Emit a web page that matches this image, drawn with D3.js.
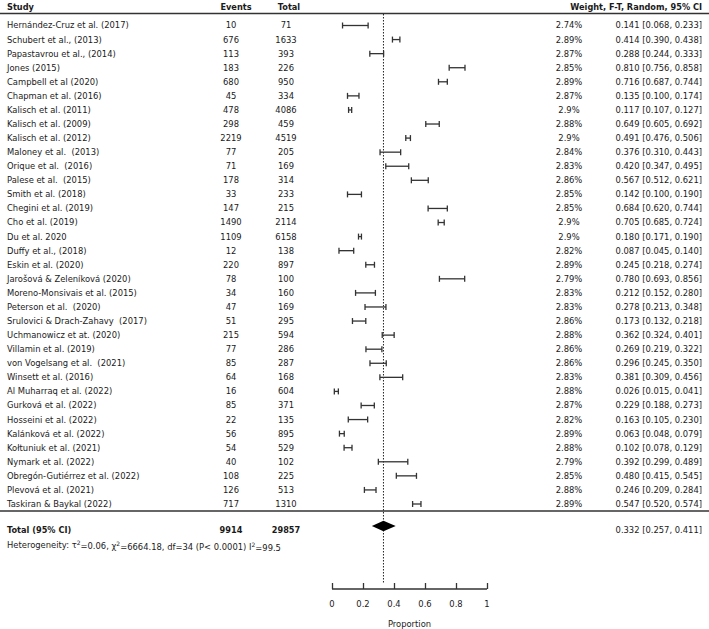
<!DOCTYPE html>
<html>
<head>
<meta charset="utf-8">
<script src="https://cdn.jsdelivr.net/npm/d3@7"></script>
<style>
  body { margin: 0; background: #fff; }
  svg text { font-family: "DejaVu Sans", sans-serif; font-size: 8.4px; fill: #1a1a1a; white-space: pre; }
  svg .bold text, svg text.bold { font-size: 8.2px; font-weight: bold; }
</style>
</head>
<body>
<div id="chart"></div>
<script>
var studies = ["Hernández-Cruz et al. (2017)", "Schubert et al., (2013)", "Papastavrou et al., (2014)", "Jones (2015)",
  "Campbell et al (2020)", "Chapman et al. (2016)", "Kalisch et al. (2011)", "Kalisch et al. (2009)", "Kalisch et al. (2012)",
  "Maloney et al.  (2013)", "Orique et al.  (2016)", "Palese et al.  (2015)", "Smith et al. (2018)", "Chegini et al. (2019)",
  "Cho et al. (2019)", "Du et al. 2020", "Duffy et al., (2018)", "Eskin et al. (2020)", "Jarošová & Zeleníková (2020)",
  "Moreno-Monsivais et al. (2015)", "Peterson et al.  (2020)", "Srulovici & Drach-Zahavy  (2017)", "Uchmanowicz et at. (2020)",
  "Villamin et al. (2019)", "von Vogelsang et al.  (2021)", "Winsett et al. (2016)", "Al Muharraq et al. (2022)",
  "Gurková et al. (2022)", "Hosseini et al. (2022)", "Kalánková et al. (2022)", "Kołtuniuk et al. (2021)",
  "Nymark et al. (2022)", "Obregón-Gutiérrez et al. (2022)", "Plevová et al. (2021)", "Taskiran & Baykal (2022)"];
var events = [10, 676, 113, 183, 680, 45, 478, 298, 2219, 77, 71, 178, 33, 147, 1490, 1109, 12, 220, 78, 34, 47, 51,
  215, 77, 85, 64, 16, 85, 22, 56, 54, 40, 108, 126, 717];
var totals = [71, 1633, 393, 226, 950, 334, 4086, 459, 4519, 205, 169, 314, 233, 215, 2114, 6158, 138, 897, 100, 160,
  169, 295, 594, 286, 287, 168, 604, 371, 135, 895, 529, 102, 225, 513, 1310];
var weights = ["2.74%", "2.89%", "2.87%", "2.85%", "2.89%", "2.87%", "2.9%", "2.88%", "2.9%", "2.84%", "2.83%", "2.86%",
  "2.85%", "2.85%", "2.9%", "2.9%", "2.82%", "2.89%", "2.79%", "2.83%", "2.83%", "2.86%", "2.88%", "2.86%", "2.86%",
  "2.83%", "2.88%", "2.87%", "2.82%", "2.89%", "2.88%", "2.79%", "2.85%", "2.88%", "2.89%"];
var est = [0.141, 0.414, 0.288, 0.810, 0.716, 0.135, 0.117, 0.649, 0.491, 0.376, 0.420, 0.567, 0.142, 0.684, 0.705,
  0.180, 0.087, 0.245, 0.780, 0.212, 0.278, 0.173, 0.362, 0.269, 0.296, 0.381, 0.026, 0.229, 0.163, 0.063, 0.102,
  0.392, 0.480, 0.246, 0.547];
var lower = [0.068, 0.390, 0.244, 0.756, 0.687, 0.100, 0.107, 0.605, 0.476, 0.310, 0.347, 0.512, 0.100, 0.620, 0.685,
  0.171, 0.045, 0.218, 0.693, 0.152, 0.213, 0.132, 0.324, 0.219, 0.245, 0.309, 0.015, 0.188, 0.105, 0.048, 0.078,
  0.299, 0.415, 0.209, 0.520];
var upper = [0.233, 0.438, 0.333, 0.858, 0.744, 0.174, 0.127, 0.692, 0.506, 0.443, 0.495, 0.621, 0.190, 0.744, 0.724,
  0.190, 0.140, 0.274, 0.856, 0.280, 0.348, 0.218, 0.401, 0.322, 0.350, 0.456, 0.041, 0.273, 0.230, 0.079, 0.129,
  0.489, 0.545, 0.284, 0.574];
var pooled = {est: 0.332, lo: 0.257, hi: 0.411, events: 9914, total: 29857};
var ticks = [0, 0.2, 0.4, 0.6, 0.8, 1];

var width = 709, height = 629;
var svg = d3.select("#chart").append("svg")
    .attr("width", width)
    .attr("height", height);

var x = d3.scaleLinear().domain([0, 1]).range([332, 487]);
var y = d3.scaleLinear().domain([0, studies.length - 1]).range([25.5, 504]);
var fmt = d3.format(".3f");

// column x positions
var colStudy = 7, colEvents = 231, colTotal = 286, colWeight = 569, colCI = 702;

// header
var head = svg.append("g").attr("class", "bold");
head.append("text").attr("x", colStudy).attr("y", 10).text("Study");
head.append("text").attr("x", 236).attr("y", 10).attr("text-anchor", "middle").text("Events");
head.append("text").attr("x", 289).attr("y", 10).attr("text-anchor", "middle").text("Total");
head.append("text").attr("x", colCI).attr("y", 10).attr("text-anchor", "end").text("Weight, F-T, Random, 95% CI");

svg.append("line").attr("x1", 0).attr("x2", width).attr("y1", 13.5).attr("y2", 13.5)
  .attr("stroke", "#333").attr("stroke-width", 1.5);
svg.append("line").attr("x1", 0).attr("x2", width).attr("y1", 511).attr("y2", 511)
  .attr("stroke", "#333").attr("stroke-width", 1.5);

// reference line at pooled estimate
svg.append("line")
  .attr("x1", x(pooled.est)).attr("x2", x(pooled.est))
  .attr("y1", 14).attr("y2", 583)
  .attr("stroke", "#222").attr("stroke-width", 1)
  .attr("stroke-dasharray", "1.5,1.5");

var rows = svg.selectAll("g.row")
  .data(studies)
  .enter().append("g")
  .attr("class", "row")
  .attr("transform", function(d, i) { return "translate(0," + y(i) + ")"; });

rows.append("text").attr("x", colStudy).attr("dy", "0.35em").text(function(d) { return d; });
rows.append("text").attr("x", colEvents).attr("dy", "0.35em").attr("text-anchor", "middle")
  .text(function(d, i) { return events[i]; });
rows.append("text").attr("x", colTotal).attr("dy", "0.35em").attr("text-anchor", "middle")
  .text(function(d, i) { return totals[i]; });
rows.append("text").attr("x", colWeight).attr("dy", "0.35em").attr("text-anchor", "middle")
  .text(function(d, i) { return weights[i]; });
rows.append("text").attr("x", colCI).attr("dy", "0.35em").attr("text-anchor", "end")
  .text(function(d, i) { return fmt(est[i]) + " [" + fmt(lower[i]) + ", " + fmt(upper[i]) + "]"; });

// CI bars
rows.append("line")
  .attr("x1", function(d, i) { return x(lower[i]); })
  .attr("x2", function(d, i) { return x(upper[i]); })
  .attr("stroke", "#333").attr("stroke-width", 1.3);
rows.append("line")
  .attr("x1", function(d, i) { return x(lower[i]); })
  .attr("x2", function(d, i) { return x(lower[i]); })
  .attr("y1", -3).attr("y2", 3)
  .attr("stroke", "#333").attr("stroke-width", 1.3);
rows.append("line")
  .attr("x1", function(d, i) { return x(upper[i]); })
  .attr("x2", function(d, i) { return x(upper[i]); })
  .attr("y1", -3).attr("y2", 3)
  .attr("stroke", "#333").attr("stroke-width", 1.3);

// total row
var ty = 530;
var tot = svg.append("g").attr("class", "bold");
tot.append("text").attr("x", colStudy).attr("y", ty).attr("dy", "0.35em").text("Total (95% CI)");
tot.append("text").attr("x", colEvents).attr("y", ty).attr("dy", "0.35em").attr("text-anchor", "middle").text(pooled.events);
tot.append("text").attr("x", colTotal).attr("y", ty).attr("dy", "0.35em").attr("text-anchor", "middle").text(pooled.total);
svg.append("text").attr("x", colCI).attr("y", ty).attr("dy", "0.35em").attr("text-anchor", "end")
  .text(fmt(pooled.est) + " [" + fmt(pooled.lo) + ", " + fmt(pooled.hi) + "]");

var het = svg.append("text").attr("x", colStudy).attr("y", 545).attr("dy", "0.35em");
het.append("tspan").text("Heterogeneity: τ");
het.append("tspan").attr("dy", "-0.45em").style("font-size", "6px").text("2");
het.append("tspan").attr("dy", "0.45em").text("=0.06, χ");
het.append("tspan").attr("dy", "-0.45em").style("font-size", "6px").text("2");
het.append("tspan").attr("dy", "0.45em").text("=6664.18, df=34 (P< 0.0001) I");
het.append("tspan").attr("dy", "-0.45em").style("font-size", "6px").text("2");
het.append("tspan").attr("dy", "0.45em").text("=99.5");

// diamond
var dy = 526, dh = 5.3;
svg.append("path")
  .attr("d", "M" + x(pooled.lo) + "," + dy + "L" + x(pooled.est) + "," + (dy - dh) +
    "L" + x(pooled.hi) + "," + dy + "L" + x(pooled.est) + "," + (dy + dh) + "Z")
  .attr("fill", "#000");

// axis
var axis = svg.append("g")
  .attr("transform", "translate(0,589)")
  .call(d3.axisTop(x).tickValues(ticks).tickSize(6).tickFormat(""));
axis.select(".domain").attr("stroke", "#333").attr("stroke-width", 1.3).attr("d", "M" + x(0) + ",0H" + x(1));
axis.selectAll(".tick line").attr("stroke", "#333").attr("stroke-width", 1.3);

svg.selectAll("text.tl")
  .data(ticks)
  .enter().append("text")
  .attr("class", "tl")
  .attr("x", function(d) { return x(d); })
  .attr("y", 604).attr("dy", "0.35em")
  .attr("text-anchor", "middle")
  .text(function(d) { return d3.format("~g")(d); });

svg.append("text").attr("x", (x(0) + x(1)) / 2).attr("y", 624).attr("dy", "0.35em")
  .attr("text-anchor", "middle").text("Proportion");
</script>
</body>
</html>
